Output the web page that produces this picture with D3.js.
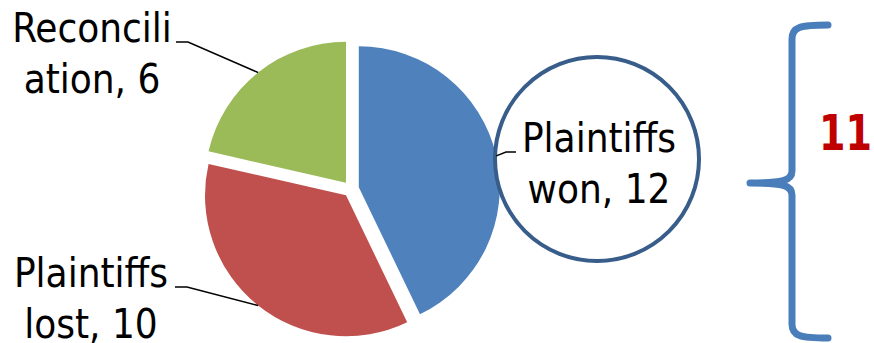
<!DOCTYPE html>
<html>
<head>
<meta charset="utf-8">
<script src="https://cdn.jsdelivr.net/npm/d3@7"></script>
<style>
  body { margin: 0; background: #fff; }
  text { font-family: "DejaVu Sans Condensed", "DejaVu Sans", sans-serif; }
</style>
</head>
<body>
<div id="chart"></div>
<script>
// data
const categories = ["Plaintiffs won", "Plaintiffs lost", "Reconciliation"];
const values = [12, 10, 6];
const labelLines = [["Plaintiffs", "won, 12"], ["Plaintiffs", "lost, 10"], ["Reconcili", "ation, 6"]];
const colors = ["#4f81bd", "#c0504d", "#9bbb59"];
const braceValue = "11";

const width = 874, height = 343;
const cx = 351, cy = 189, radius = 141, explode = 8;

// where each label sits (centre x, first baseline y), relative to pie centre
const labelPos = [[248, -37], [-260, 98], [-259, -147]];
const lineGap = 51;

const svg = d3.select("#chart").append("svg")
    .attr("width", width)
    .attr("height", height);

const pie = d3.pie().sort(null).value(d => d)
const arcs = pie(values);
const arc = d3.arc().innerRadius(0).outerRadius(radius);

const g = svg.append("g").attr("transform", "translate(" + cx + "," + cy + ")");

function offset(d, r) {
  const a = (d.startAngle + d.endAngle) / 2;
  return [Math.sin(a) * r, -Math.cos(a) * r];
}

// slices, pulled apart a little
g.selectAll("path.slice")
    .data(arcs)
    .enter()
    .append("path")
    .attr("class", "slice")
    .attr("transform", d => "translate(" + offset(d, explode) + ")")
    .attr("d", arc)
    .style("fill", (d, i) => colors[i]);

// circle round the "won" label
g.append("circle")
    .attr("cx", labelPos[0][0] - 2)
    .attr("cy", labelPos[0][1] + 7)
    .attr("r", 102)
    .style("fill", "#fff")
    .style("stroke", "#385d8a")
    .style("stroke-width", 4);

// leader lines
arcs.forEach((d, i) => {
  const o = offset(d, explode);
  const e = offset(d, radius);
  const start = [o[0] + e[0], o[1] + e[1]];
  const lp = labelPos[i];
  const left = lp[0] < 0;
  const half = 80;
  const x1 = left ? lp[0] + half + 4 : lp[0] - half - 3;
  const x2 = left ? x1 + 12 : x1 - 10;
  g.append("path")
      .attr("d", d3.line()([[start[0], start[1]], [x2, lp[1]], [x1, lp[1]]]))
      .style("fill", "none")
      .style("stroke", "#000")
      .style("stroke-width", 1.5);
});

// labels
arcs.forEach((d, i) => {
  const t = g.append("text")
      .attr("text-anchor", "middle")
      .style("font-size", "40px")
      .style("fill", "#000");
  labelLines[i].forEach((line, k) => {
    t.append("tspan")
        .attr("x", labelPos[i][0])
        .attr("y", labelPos[i][1] + k * lineGap)
        .text(line);
  });
});

// curly brace on the right
const bx = 792, braceTop = 25, braceBottom = 338, tipX = 750, tipY = 183, endX = 828;
const p = d3.path();
p.moveTo(endX, braceTop);
p.bezierCurveTo(bx + 8, braceTop, bx, braceTop + 2, bx, braceTop + 14);
p.lineTo(bx, tipY - 12);
p.bezierCurveTo(bx, tipY - 2, bx - 10, tipY, tipX, tipY);
p.bezierCurveTo(bx - 10, tipY, bx, tipY + 2, bx, tipY + 12);
p.lineTo(bx, braceBottom - 14);
p.bezierCurveTo(bx, braceBottom - 2, bx + 8, braceBottom, endX, braceBottom);
svg.append("path")
    .attr("d", p.toString())
    .style("fill", "none")
    .style("stroke", "#4a7ebb")
    .style("stroke-width", 7)
    .style("stroke-linecap", "round")
    .style("stroke-linejoin", "round");

svg.append("text")
    .attr("x", 819)
    .attr("y", 150)
    .attr("textLength", 53)
    .attr("lengthAdjust", "spacingAndGlyphs")
    .style("font-size", "50px")
    .style("font-weight", "bold")
    .style("fill", "#c00000")
    .text(braceValue);
</script>
</body>
</html>
